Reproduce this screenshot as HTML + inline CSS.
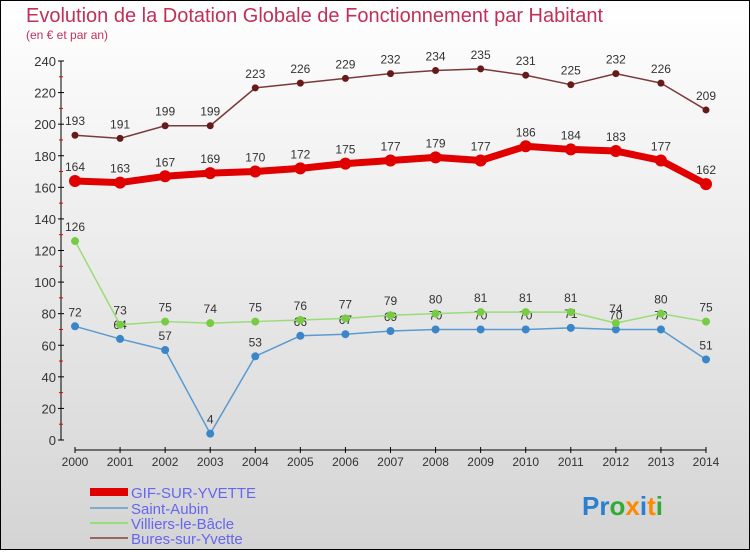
<!DOCTYPE html>
<html><head><meta charset="utf-8"><style>
html,body{margin:0;padding:0}
body{width:750px;height:550px;overflow:hidden;font-family:"Liberation Sans",sans-serif}
</style></head><body>
<svg id="chart" width="750" height="550" viewBox="0 0 750 550" xmlns="http://www.w3.org/2000/svg">
<defs><linearGradient id="bg" x1="0" y1="0" x2="0" y2="1"><stop offset="0" stop-color="#ffffff"/><stop offset="1" stop-color="#d4d4d4"/></linearGradient></defs>
<rect x="0.5" y="0.5" width="749" height="549" fill="url(#bg)" stroke="#000"/>
<text x="26" y="22" font-size="20" fill="#c0305a">Evolution de la Dotation Globale de Fonctionnement par Habitant</text>
<text x="26" y="39" font-size="12" fill="#c0305a">(en € et par an)</text>
<g id="axes"></g>
<g id="series"></g>
<g font-size="15" fill="#6666ee">
<rect x="90" y="488" width="38" height="8" fill="#e00000"/>
<text x="131" y="498" fill="#6666ee">GIF-SUR-YVETTE</text>
<line x1="90" y1="508" x2="128" y2="508" stroke="#7aaed0" stroke-width="2"/>
<text x="131" y="514" fill="#6666ee">Saint-Aubin</text>
<line x1="90" y1="523" x2="128" y2="523" stroke="#99dd77" stroke-width="2"/>
<text x="131" y="529" fill="#6666ee">Villiers-le-Bâcle</text>
<line x1="90" y1="538" x2="128" y2="538" stroke="#996666" stroke-width="2"/>
<text x="131" y="544" fill="#6666ee">Bures-sur-Yvette</text>
</g>
<text x="582" y="515" font-size="26" font-weight="bold"><tspan fill="#2a7fd0">Pr</tspan><tspan fill="#33aa33">o</tspan><tspan fill="#ff8800">x</tspan><tspan fill="#2a7fd0">i</tspan><tspan fill="#ff8800">t</tspan><tspan fill="#33aa33">i</tspan></text>
</svg>
<script>
const years=[2000,2001,2002,2003,2004,2005,2006,2007,2008,2009,2010,2011,2012,2013,2014];
const yTicks=[0,20,40,60,80,100,120,140,160,180,200,220,240];
const gif=[164,163,167,169,170,172,175,177,179,177,186,184,183,177,162];
const saintAubin=[72,64,57,4,53,66,67,69,70,70,70,71,70,70,51];
const villiers=[126,73,75,74,75,76,77,79,80,81,81,81,74,80,75];
const bures=[193,191,199,199,223,226,229,232,234,235,231,225,232,226,209];
const NS="http://www.w3.org/2000/svg";
const x=i=>75+i*(706-75)/(years.length-1);
const y=v=>440-v*(379/240);
function mk(tag,attrs,parent,text){const e=document.createElementNS(NS,tag);for(const k in attrs)e.setAttribute(k,attrs[k]);if(text!==undefined)e.textContent=text;parent.appendChild(e);return e;}
const axes=document.getElementById('axes');
let a=mk('line',{x1:61,y1:y(240),x2:61,y2:y(0),stroke:'#000'},axes);


a=mk('line',{x1:75,y1:450,x2:706,y2:450,stroke:'#000'},axes);


yTicks.forEach(t=>{
 mk('line',{x1:58,y1:y(t),x2:64,y2:y(t),stroke:'#000'},axes);
 if(t<240) mk('line',{x1:59,y1:y(t+10),x2:63,y2:y(t+10),stroke:'#e00000'},axes);
 const l=mk('text',{x:56,y:y(t)+5,'font-size':13,'text-anchor':'end',fill:'#333'},axes,String(t));
 
 
});
years.forEach((yr,i)=>{
 mk('line',{x1:x(i),y1:447,x2:x(i),y2:453,stroke:'#000'},axes);
 const l=mk('text',{x:x(i),y:466,'font-size':12,'text-anchor':'middle',fill:'#333'},axes,String(yr));
 
 
});
const sg=document.getElementById('series');
function series(vals,name,color,dot,w,r){
 const g=mk('g',{},sg);
 
 
 const p=mk('polyline',{points:vals.map((v,i)=>x(i)+','+y(v)).join(' '),fill:'none',stroke:color,'stroke-width':w,'stroke-linejoin':'round'},g);
 
 
 vals.forEach((v,i)=>{
  const c=mk('circle',{cx:x(i),cy:y(v),r:r,fill:dot},g);
  
  
  const t=mk('text',{x:x(i),y:y(v)-10,'font-size':12,'text-anchor':'middle',fill:'#333'},g,String(v));
  
  
 });
}
series(saintAubin,'saint-aubin','#5a9ad0','#3a86c8',1.5,4);
series(villiers,'villiers','#99dd77','#77cc44',1.5,4);
series(bures,'bures','#7a3a3a','#661a1a',1.5,3.5);
series(gif,'gif','#e00000','#e00000',7,6);
</script>
</body></html>
